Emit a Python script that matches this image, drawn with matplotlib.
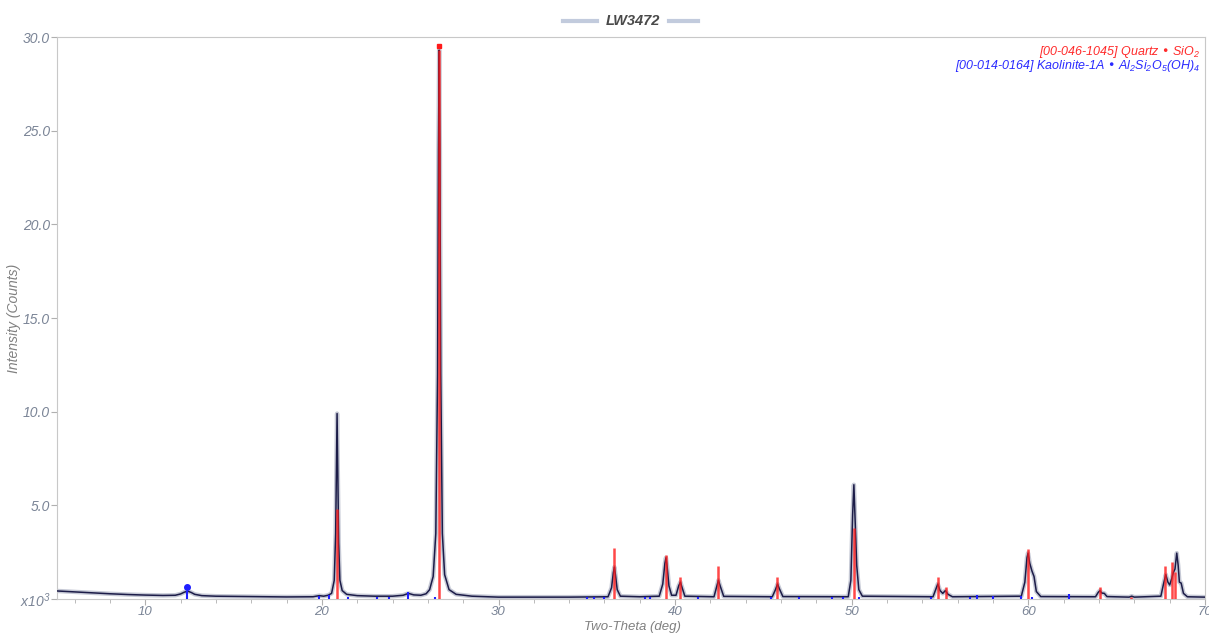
import matplotlib.pyplot as plt
from matplotlib.lines import Line2D

plt.rcParams['font.family'] = ['Liberation Sans', 'DejaVu Sans']
plt.rcParams['mathtext.default'] = 'regular'

obs_tt = [5.0, 6.0, 7.0, 8.0, 9.0, 10.0, 11.0, 11.7, 12.0, 12.2, 12.4, 12.6, 12.8, 13.2, 14.0, 16.0, 18.0,
          19.5, 19.85, 20.1, 20.35, 20.55, 20.7, 20.78, 20.83, 20.86, 20.9, 20.95, 21.02, 21.15, 21.4, 22.0,
          23.0, 24.0, 24.6, 24.9, 25.2, 25.6, 25.9, 26.1, 26.3, 26.45, 26.55, 26.6, 26.64, 26.68, 26.73,
          26.82, 26.95, 27.2, 27.6, 28.5, 30.0, 34.0, 36.2, 36.4, 36.5, 36.56, 36.62, 36.72, 36.9, 38.0,
          39.1, 39.3, 39.42, 39.48, 39.55, 39.65, 39.8, 40.05, 40.2, 40.3, 40.38, 40.55, 42.2, 42.35, 42.45,
          42.55, 42.75, 45.5, 45.68, 45.8, 45.9, 46.1, 49.8, 49.95, 50.05, 50.12, 50.2, 50.28, 50.4, 50.6,
          54.6, 54.75, 54.87, 55.0, 55.15, 55.3, 55.45, 55.7, 59.6, 59.8, 59.92, 59.98, 60.08, 60.2, 60.32,
          60.45, 60.7, 63.8, 63.95, 64.05, 64.15, 64.3, 64.45, 65.7, 65.85, 66.0, 67.5, 67.65, 67.78, 67.9,
          68.0, 68.12, 68.2, 68.3, 68.4, 68.48, 68.55, 68.65, 68.78, 69.0, 70.0]
obs_k = [0.43, 0.38, 0.33, 0.28, 0.24, 0.21, 0.19, 0.2, 0.27, 0.36, 0.42, 0.35, 0.25, 0.18, 0.15, 0.13, 0.11,
         0.12, 0.18, 0.15, 0.2, 0.3, 1.0, 3.5, 7.5, 9.9, 7.0, 3.0, 1.0, 0.45, 0.25, 0.18,
         0.15, 0.15, 0.2, 0.3, 0.22, 0.2, 0.28, 0.5, 1.2, 3.5, 12.0, 24.0, 29.3, 24.0, 12.0,
         3.5, 1.3, 0.5, 0.25, 0.15, 0.1, 0.1, 0.12, 0.6, 1.4, 1.7, 1.3, 0.5, 0.15, 0.12,
         0.15, 0.8, 1.9, 2.2, 1.7, 0.7, 0.2, 0.2, 0.7, 0.9, 0.65, 0.15, 0.12, 0.65, 1.0,
         0.7, 0.14, 0.12, 0.5, 0.8, 0.55, 0.13, 0.12, 1.0, 4.5, 6.1, 4.0, 1.8, 0.5, 0.15,
         0.12, 0.5, 0.8, 0.45, 0.3, 0.45, 0.25, 0.12, 0.15, 0.9, 2.2, 2.45, 1.9, 1.5, 1.2,
         0.4, 0.13, 0.12, 0.35, 0.45, 0.32, 0.3, 0.13, 0.1, 0.15, 0.1, 0.15, 0.8, 1.3, 0.9,
         0.75, 1.1, 1.4, 1.6, 2.45, 1.8, 0.9, 0.85, 0.3, 0.12, 0.1]

# quartz reference sticks
qz_tt = [20.86, 26.64, 36.54, 39.46, 40.29, 42.45, 45.79, 50.14, 54.87, 55.33, 59.96, 64.04, 65.79,
         67.74, 68.14, 68.31]
qz_k = [4.8, 29.3, 2.7, 2.35, 1.2, 1.75, 1.2, 3.8, 1.2, 0.64, 2.65, 0.63, 0.12, 1.75, 2.0, 1.45]

# kaolinite reference sticks
ka_tt = [12.36, 19.84, 20.38, 21.5, 23.1, 23.8, 24.9, 26.4, 35.0, 35.4, 36.0, 38.3, 38.6, 41.3, 45.4,
         47.0, 48.9, 49.5, 50.4, 54.5, 56.7, 57.1, 58.0, 59.6, 60.2, 62.3]
ka_k = [0.45, 0.15, 0.2, 0.12, 0.12, 0.1, 0.35, 0.12, 0.12, 0.1, 0.12, 0.12, 0.1, 0.1, 0.12,
        0.1, 0.1, 0.12, 0.1, 0.12, 0.12, 0.2, 0.18, 0.15, 0.12, 0.25]

fig = plt.figure(figsize=(12.09, 6.33), dpi=100)
ax = fig.add_axes([0.0471, 0.0537, 0.9496, 0.8878])

ax.plot(obs_tt, obs_k, color='#8e95ad', lw=3.2, alpha=0.5, solid_joinstyle='round', zorder=2)
ax.plot(obs_tt, obs_k, color='#1c1c48', lw=1.1, zorder=3)
ax.vlines(ka_tt, 0, ka_k, color='#1f1fff', lw=1.5, zorder=4)
ax.vlines(qz_tt, 0, qz_k, color='#ff1a1a', lw=1.8, alpha=0.8, zorder=4)
ax.plot([qz_tt[1]], [qz_k[1] + 0.2], 's', color='#ff1a1a', ms=3.5, zorder=5)
ax.plot([ka_tt[0]], [ka_k[0] + 0.2], 'o', color='#1f1fff', ms=4, zorder=5)

ax.set_xlim(5, 70)
ax.set_ylim(0, 30)
ax.set_xticks(range(10, 71, 10))
ax.set_xticks(range(6, 71, 2), minor=True)
ax.set_yticks([0, 5, 10, 15, 20, 25, 30])
ax.set_yticklabels(['x10$^3$', '5.0', '10.0', '15.0', '20.0', '25.0', '30.0'])

for s in ax.spines.values():
    s.set_color('#c8c8c8')
ax.tick_params(which='both', direction='out', color='#b0b0b0', labelcolor='#7a8496',
               labelsize=10, length=4)
ax.tick_params(axis='y', pad=1)
ax.tick_params(axis='x', pad=1, labelsize=9.5)
ax.tick_params(which='minor', length=3)
for lab in ax.get_xticklabels() + ax.get_yticklabels():
    lab.set_fontstyle('italic')

fig.text(0.5235, 0.0, 'Two-Theta (deg)', ha='center', va='bottom', fontsize=9.5,
         color='#808080', style='italic')
fig.text(0.0115, 0.497, 'Intensity (Counts)', ha='center', va='center', rotation=90,
         fontsize=10, color='#808080', style='italic')

ax.text(0.996, 0.988, '[00-046-1045] Quartz \u2022 SiO$_2$', transform=ax.transAxes,
        ha='right', va='top', color='#ff2a2a', fontsize=9, style='italic')
ax.text(0.996, 0.962, '[00-014-0164] Kaolinite-1A \u2022 Al$_2$Si$_2$O$_5$(OH)$_4$',
        transform=ax.transAxes, ha='right', va='top', color='#2a2aff', fontsize=9, style='italic')

fig.text(0.5235, 0.967, 'LW3472', ha='center', va='center', fontsize=10.5, weight='bold',
         style='italic', color='#4a4a4a')
fig.add_artist(Line2D([0.466, 0.494], [0.967, 0.967], color='#a8b6cf', lw=3, alpha=0.7))
fig.add_artist(Line2D([0.553, 0.577], [0.967, 0.967], color='#a8b6cf', lw=3, alpha=0.7))

fig.savefig('out.png', dpi=100)
